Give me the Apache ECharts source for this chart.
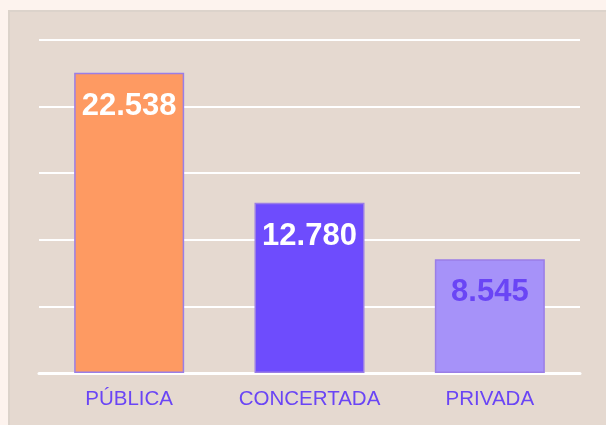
<!DOCTYPE html>
<html>
<head>
<meta charset="utf-8">
<script src="https://cdn.jsdelivr.net/npm/echarts@6/dist/echarts.min.js"></script>
<style>
  html, body { margin: 0; padding: 0; background: #fdf3ee; }
  .box {
    position: absolute; left: 8px; top: 10px; width: 610px; height: 430px;
    background: #e5d9d0; border: 2px solid #dcd3cb; box-sizing: border-box;
  }
  #chart { position: absolute; left: 0; top: 0; width: 606px; height: 425px; }
</style>
</head>
<body>
<div class="box"></div>
<div id="chart"></div>
<script>
const categories = ['PÚBLICA', 'CONCERTADA', 'PRIVADA'];
const values = [22.538, 12.780, 8.545];
const barColors = ['#fe9a62', '#6e4cfd', '#a692f9'];
const labelColors = ['#ffffff', '#ffffff', '#6a45f5'];

const chart = echarts.init(document.getElementById('chart'));

chart.setOption({
  backgroundColor: 'transparent',
  animation: false,
  grid: { left: 39, right: 26, top: 40, bottom: 52 },
  xAxis: {
    type: 'category',
    data: categories,
    axisTick: { show: false },
    axisLine: { lineStyle: { color: '#ffffff', width: 3 } },
    axisLabel: {
      interval: 0,
      hideOverlap: false,
      color: '#6a45f5',
      fontSize: 20.5,
      fontFamily: 'Liberation Sans, Arial, sans-serif',
      margin: 16
    }
  },
  yAxis: {
    type: 'value',
    min: 0,
    max: 25,
    interval: 5,
    axisLabel: { show: false },
    axisLine: { show: false },
    axisTick: { show: false },
    splitLine: { lineStyle: { color: '#ffffff', width: 2 } }
  },
  series: [{
    type: 'bar',
    barWidth: '61%',
    data: values.map((v, i) => ({
      value: v,
      itemStyle: { color: barColors[i], borderColor: '#9a7ee6', borderWidth: 1.5 },
      label: { color: labelColors[i] }
    })),
    label: {
      show: true,
      position: 'insideTop',
      distance: 18,
      fontSize: 31,
      fontWeight: 'bold',
      fontFamily: 'Liberation Sans, Arial, sans-serif',
      formatter: p => p.value.toFixed(3)
    }
  }]
});
</script>
</body>
</html>
